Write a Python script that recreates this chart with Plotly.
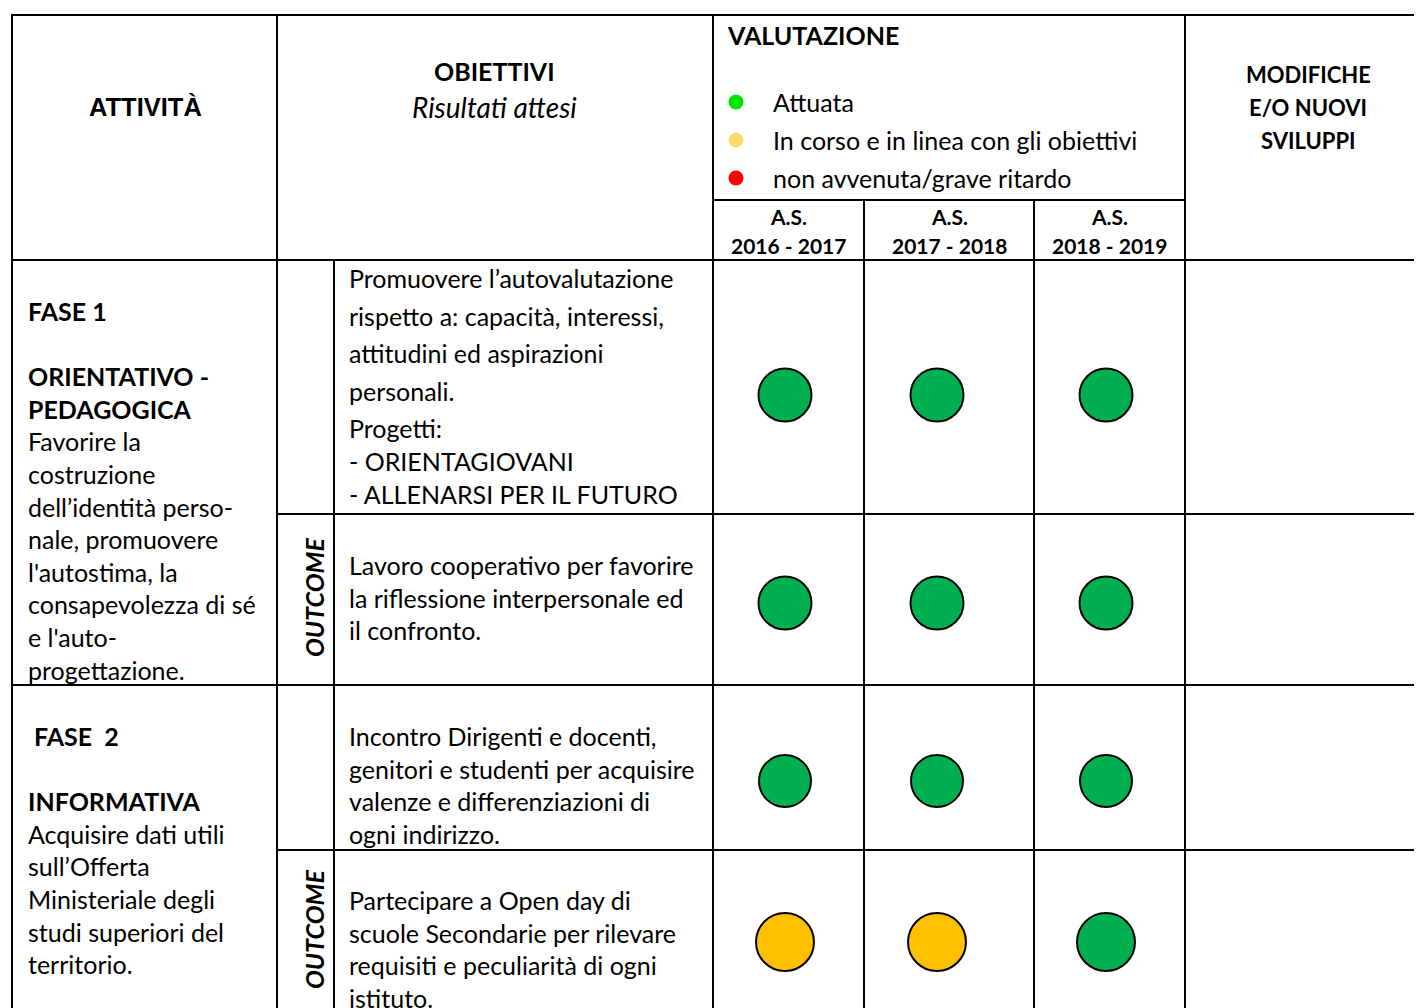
import plotly.graph_objects as go

# ---------------- data ----------------
years = ["2016 - 2017", "2017 - 2018", "2018 - 2019"]
status_names = ["Attuata", "In corso e in linea con gli obiettivi", "non avvenuta/grave ritardo"]
legend_colors = ["#00e600", "#ffd966", "#ff0000"]

rows = ["F1 obiettivo", "F1 outcome", "F2 obiettivo", "F2 outcome"]
status_2016_2017 = ["Attuata", "Attuata", "Attuata", "In corso e in linea con gli obiettivi"]
status_2017_2018 = ["Attuata", "Attuata", "Attuata", "In corso e in linea con gli obiettivi"]
status_2018_2019 = ["Attuata", "Attuata", "Attuata", "Attuata"]
status_by_year = [status_2016_2017, status_2017_2018, status_2018_2019]
circle_colors = {"Attuata": "#00b050",
                 "In corso e in linea con gli obiettivi": "#ffc000",
                 "non avvenuta/grave ritardo": "#ff0000"}

fase1_lines = ["<b>FASE 1</b>", "", "<b>ORIENTATIVO -</b>", "<b>PEDAGOGICA</b>", "Favorire la",
               "costruzione", "dell’identità perso-", "nale, promuovere", "l'autostima, la",
               "consapevolezza di sé", "e l'auto-", "progettazione."]
fase2_lines = ["<b> FASE  2</b>", "", "<b>INFORMATIVA</b>", "Acquisire dati utili", "sull’Offerta",
               "Ministeriale degli", "studi superiori del", "territorio."]
obiettivo1_lines = ["Promuovere l’autovalutazione", "rispetto a: capacità, interessi,",
                    "attitudini ed aspirazioni", "personali.", "Progetti:", "- ORIENTAGIOVANI",
                    "- ALLENARSI PER IL FUTURO"]
outcome1_lines = ["Lavoro cooperativo per favorire", "la riflessione interpersonale ed", "il confronto."]
obiettivo2_lines = ["Incontro Dirigenti e docenti,", "genitori e studenti per acquisire",
                    "valenze e differenziazioni di", "ogni indirizzo."]
outcome2_lines = ["Partecipare a Open day di", "scuole Secondarie per rilevare",
                  "requisiti e peculiarità di ogni", "istituto."]
modifiche_lines = ["MODIFICHE", "E/O NUOVI", "SVILUPPI"]

# ---------------- layout geometry (page pixels) ----------------
W, H = 1422, 1008
PAD = 8                 # default body margin of the html page
FONT = "Lato"
FS = 25
BLACK = "#000000"
LW = 2
TX = -2                 # compensation for annotation inner padding

x_left, x_obj, x_out, x_val, x_c2, x_c3, x_mod, x_right = 12, 277, 334, 713, 864, 1034, 1185, W + 5
y_top, y_leg, y_head, y_r2, y_f2, y_r4 = 15, 200, 260, 514, 685, 850

col_x = [785, 937, 1106]        # circle anchor per year column
row_y = [395, 603, 781, 942]    # circle anchor per row
row_size = [53, 53, 52, 58]

fig = go.Figure()

shapes = []
def line(x0, y0, x1, y1):
    shapes.append(dict(type="line", x0=x0, y0=y0, x1=x1, y1=y1, xref="x", yref="y",
                       line=dict(color=BLACK, width=LW)))

# horizontal lines
line(x_left - 1, y_top, x_right, y_top)
line(x_val, y_leg, x_mod, y_leg)
line(x_left - 1, y_head, x_right, y_head)
line(x_obj, y_r2, x_right, y_r2)
line(x_left - 1, y_f2, x_right, y_f2)
line(x_obj, y_r4, x_right, y_r4)
# vertical lines
for xv in [x_left, x_obj, x_val, x_mod]:
    line(xv, y_top, xv, H + 5)
line(x_c2, y_leg, x_c2, H + 5)
line(x_c3, y_leg, x_c3, H + 5)
line(x_out, y_head, x_out, H + 5)

ann = []
def text(x, y, t, size=FS, anchor="left", family=FONT, angle=0):
    ann.append(dict(x=x + (TX if anchor == "left" else 0), y=y, xref="x", yref="y", text=t,
                    showarrow=False, xanchor=anchor, yanchor="middle", textangle=angle,
                    font=dict(family=family, size=size, color=BLACK)))

# header
text(145, 107, "<b>ATTIVITÀ</b>", size=25.5, anchor="center", family="Liberation Sans")
text(494, 71, "<b>OBIETTIVI</b>", anchor="center")
text(494, 107, "<i>Risultati attesi</i>", size=28, anchor="center")
text(727, 35, "<b>VALUTAZIONE</b>")
leg_y = [102, 140, 178]
for name, yy in zip(status_names, leg_y):
    text(773, yy, name)
fig.add_trace(go.Scatter(x=[736] * 3, y=leg_y, mode="markers",
                         marker=dict(size=15, color=legend_colors, opacity=1, line=dict(width=0)),
                         hoverinfo="text", text=status_names, showlegend=False))
for xc0, xc1, yr in zip([x_val, x_c2, x_c3], [x_c2, x_c3, x_mod], years):
    text((xc0 + xc1) / 2, 216, "<b>A.S.</b>", size=21, anchor="center")
    text((xc0 + xc1) / 2, 245, "<b>" + yr + "</b>", size=21, anchor="center")
for i, t in enumerate(modifiche_lines):
    text(1308, 74 + 33 * i, "<b>" + t + "</b>", size=22, anchor="center")

# body texts
def block(x, y0, step, lines):
    for i, t in enumerate(lines):
        if t:
            text(x, y0 + step * i, t)

block(28, 311, 32.6, fase1_lines)
block(28, 736, 32.6, fase2_lines)
block(349, 278, 37.5, obiettivo1_lines[:5])
block(349, 461, 32.5, obiettivo1_lines[5:])
block(349, 565, 32.5, outcome1_lines)
block(349, 736, 32.7, obiettivo2_lines)
block(349, 900, 32.5, outcome2_lines)
text(314, 598, "<b><i>OUTCOME</i></b>", anchor="center", angle=-90)
text(314, 930, "<b><i>OUTCOME</i></b>", anchor="center", angle=-90)

# evaluation circles
for j, (yr, st) in enumerate(zip(years, status_by_year)):
    fig.add_trace(go.Scatter(
        x=[col_x[j]] * len(rows), y=row_y, mode="markers",
        marker=dict(size=row_size, color=[circle_colors[s] for s in st], opacity=1,
                    line=dict(color=BLACK, width=2)),
        text=[f"{r} – A.S. {yr}: {s}" for r, s in zip(rows, st)],
        hoverinfo="text", showlegend=False))

fig.update_layout(
    width=W - PAD, height=H - PAD, margin=dict(l=0, r=0, t=0, b=0, pad=0),
    paper_bgcolor="white", plot_bgcolor="white",
    xaxis=dict(range=[PAD, W], visible=False, fixedrange=True),
    yaxis=dict(range=[H, PAD], visible=False, fixedrange=True),
    shapes=shapes, annotations=ann, showlegend=False,
)
fig.write_html("out.html")
